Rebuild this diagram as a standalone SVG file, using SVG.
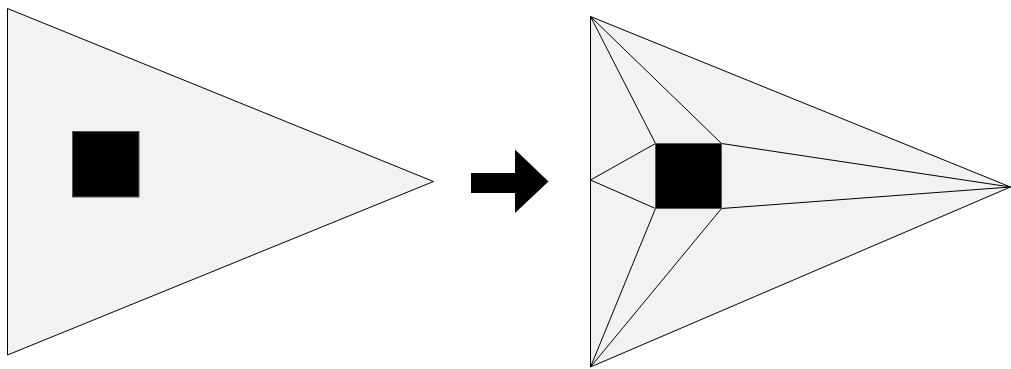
<svg xmlns="http://www.w3.org/2000/svg" width="1011" height="369" viewBox="0 0 1011 369">
<style>
.tri{fill:#f2f2f2;stroke:#000;stroke-width:1}
.sq{fill:#000;stroke:#555;stroke-width:1}
.ln{stroke:#000;stroke-width:1;fill:none}
</style>
<rect width="1011" height="369" fill="#fff"/>
<g id="before">
<polygon class="tri" points="7.5,8.5 7.5,355 433.5,181.5"/>
<rect class="sq" x="72.5" y="131.5" width="66.5" height="65.5"/>
</g>
<g id="arrow">
<polygon fill="#000" points="471,173 515,173 515,149.5 548.5,181.5 515,213 515,193 471,193"/>
</g>
<g id="after">
<polygon class="tri" points="590.5,16.5 590.5,367 1010.5,187"/>
</g>
<g id="connectors">
<line class="ln" x1="590.5" y1="16.5" x2="655.5" y2="143.5"/>
<line class="ln" x1="590.5" y1="16.5" x2="721.5" y2="143.5"/>
<line class="ln" x1="590.5" y1="367" x2="655.5" y2="208.5"/>
<line class="ln" x1="590.5" y1="367" x2="721.5" y2="208.5"/>
<line class="ln" x1="590.5" y1="180" x2="655.5" y2="143.5"/>
<line class="ln" x1="590.5" y1="180" x2="655.5" y2="208.5"/>
<line class="ln" x1="721.5" y1="143.5" x2="1010.5" y2="187"/>
<line class="ln" x1="721.5" y1="208.5" x2="1010.5" y2="187"/>
</g>
<g id="obstacle">
<rect class="sq" x="655.5" y="143.5" width="66" height="65"/>
</g>
</svg>
